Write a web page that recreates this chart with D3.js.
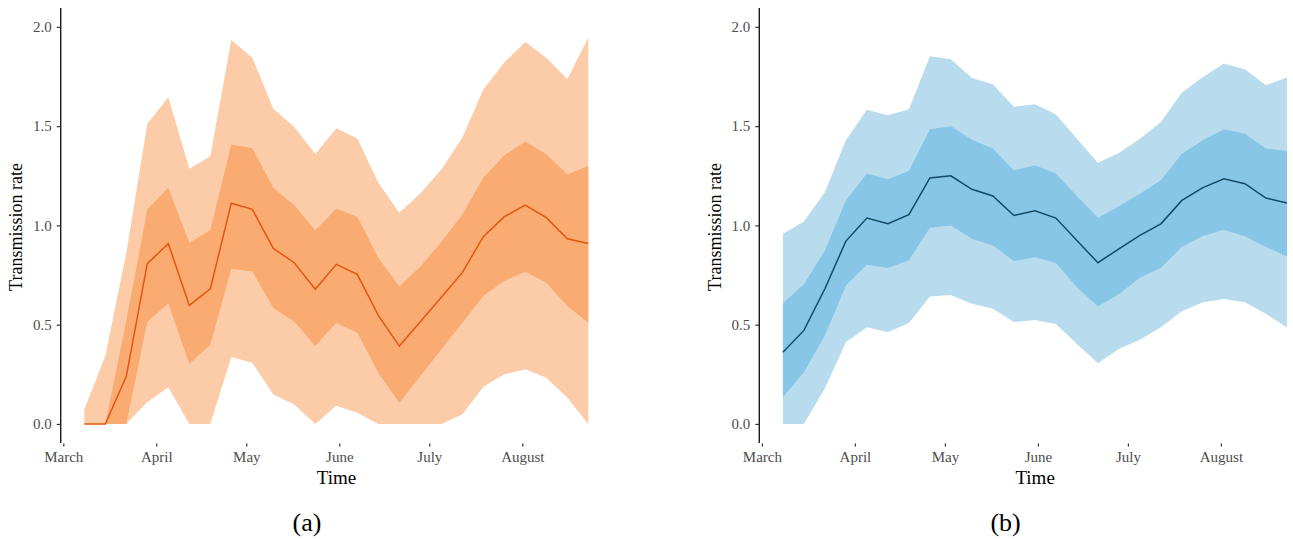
<!DOCTYPE html>
<html>
<head>
<meta charset="utf-8">
<script src="https://cdn.jsdelivr.net/npm/d3@7"></script>
<style>
  body { margin: 0; background: #fff; }
  text { font-family: "Liberation Serif", "DejaVu Serif", serif; }
</style>
</head>
<body>
<svg id="chart" width="1293" height="539"></svg>
<script>
// weekly estimates, 2020
var dates = ["2020-03-08", "2020-03-15", "2020-03-22", "2020-03-29", "2020-04-05", "2020-04-12",
    "2020-04-19", "2020-04-26", "2020-05-03", "2020-05-10", "2020-05-17", "2020-05-24",
    "2020-05-31", "2020-06-07", "2020-06-14", "2020-06-21", "2020-06-28", "2020-07-05",
    "2020-07-12", "2020-07-19", "2020-07-26", "2020-08-02", "2020-08-09", "2020-08-16", "2020-08-23"]

// panel (a)
var aMedian = [0, 0, 0.24, 0.807, 0.908, 0.597, 0.681, 1.112, 1.081, 0.884, 0.812, 0.678, 0.804,
    0.753, 0.547, 0.392, 0.515, 0.638, 0.762, 0.943, 1.044, 1.102, 1.039, 0.933, 0.909]
var aInnerLo = [0, 0, 0, 0.515, 0.607, 0.303, 0.399, 0.782, 0.768, 0.584, 0.515, 0.392, 0.51,
    0.459, 0.258, 0.107, 0.241, 0.375, 0.51, 0.644, 0.72, 0.767, 0.711, 0.594, 0.51]
var aInnerHi = [0, 0, 0.52, 1.081, 1.19, 0.913, 0.975, 1.408, 1.388, 1.19, 1.102, 0.975, 1.084,
    1.044, 0.837, 0.694, 0.792, 0.916, 1.055, 1.24, 1.353, 1.422, 1.358, 1.257, 1.299]
var aOuterLo = [0, 0, 0, 0.11, 0.185, 0, 0, 0.337, 0.308, 0.148, 0.098, 0, 0.092,
    0.056, 0, 0, 0, 0, 0.048, 0.187, 0.25, 0.275, 0.233, 0.132, 0]
var aOuterHi = [0.073, 0.342, 0.86, 1.512, 1.646, 1.285, 1.348, 1.934, 1.845, 1.588, 1.495, 1.36, 1.489,
    1.438, 1.215, 1.064, 1.161, 1.282, 1.442, 1.685, 1.82, 1.924, 1.845, 1.736, 1.946]

// panel (b)
var bMedian = [0.361, 0.471, 0.681, 0.921, 1.037, 1.008, 1.054, 1.239, 1.25, 1.182, 1.148, 1.05, 1.074,
    1.037, 0.924, 0.812, 0.882, 0.95, 1.008, 1.126, 1.19, 1.235, 1.21, 1.138, 1.113]
var bInnerLo = [0.134, 0.26, 0.445, 0.697, 0.802, 0.785, 0.824, 0.988, 1.0, 0.933, 0.899, 0.82, 0.84,
    0.81, 0.689, 0.592, 0.655, 0.736, 0.787, 0.891, 0.946, 0.978, 0.945, 0.891, 0.844]
var bInnerHi = [0.608, 0.703, 0.874, 1.126, 1.261, 1.232, 1.274, 1.484, 1.499, 1.432, 1.387, 1.277, 1.303,
    1.261, 1.148, 1.039, 1.096, 1.16, 1.227, 1.361, 1.429, 1.484, 1.462, 1.387, 1.375]
var bOuterLo = [0, 0, 0.18, 0.412, 0.487, 0.462, 0.509, 0.642, 0.65, 0.605, 0.58, 0.513, 0.524,
    0.504, 0.403, 0.306, 0.378, 0.424, 0.487, 0.568, 0.613, 0.629, 0.613, 0.555, 0.487]
var bOuterHi = [0.958, 1.02, 1.168, 1.429, 1.583, 1.555, 1.585, 1.852, 1.837, 1.743, 1.711, 1.597, 1.61,
    1.56, 1.437, 1.316, 1.365, 1.437, 1.521, 1.669, 1.748, 1.815, 1.787, 1.706, 1.745]

var yTicks = [0, 0.5, 1, 1.5, 2]

var parse = d3.utcParse("%Y-%m-%d")
var times = dates.map(parse)

var svg = d3.select("#chart")

function rows(med, ilo, ihi, olo, ohi) {
    return times.map(function (t, i) {
        return {t: t, med: med[i], ilo: ilo[i], ihi: ihi[i], olo: olo[i], ohi: ohi[i]}
    })
}

function panel(dx, data, cols, tag) {
    var g = svg.append("g").attr("transform", "translate(" + dx + ",0)")

    var x = d3.scaleUtc()
        .domain([parse("2020-03-01"), parse("2020-08-23")])
        .range([63.3, 588.3])
    var y = d3.scaleLinear()
        .domain([-0.096, 2.095])
        .range([443, 8])

    var outer = d3.area()
        .x(d => x(d.t)).y0(d => y(d.olo)).y1(d => y(d.ohi))
    var inner = d3.area()
        .x(d => x(d.t)).y0(d => y(d.ilo)).y1(d => y(d.ihi))
    var line = d3.line()
        .x(d => x(d.t)).y(d => y(d.med))

    g.append("path").datum(data).attr("d", outer).attr("fill", cols[0])
    g.append("path").datum(data).attr("d", inner).attr("fill", cols[1])
    g.append("path").datum(data).attr("d", line)
        .attr("fill", "none")
        .attr("stroke", cols[2])
        .attr("stroke-width", 1.5)

    // y axis
    var ya = g.append("g")
        .attr("transform", "translate(60.7,0)")
        .call(d3.axisLeft(y).tickValues(yTicks).tickFormat(d3.format(".1f")).tickSize(4).tickPadding(5))
    ya.select(".domain").attr("stroke", "#1a1a1a").attr("stroke-width", 1.4)
        .attr("d", "M0," + y.range()[0] + "V" + y.range()[1])
    ya.selectAll(".tick line").attr("stroke", "#333").attr("stroke-width", 1.2)
    ya.selectAll(".tick text")
        .attr("fill", "#4d4d4d")
        .style("font-size", "15px")

    // x axis (ticks only)
    var xa = g.append("g")
        .attr("transform", "translate(0,443.5)")
        .call(d3.axisBottom(x).ticks(d3.utcMonth.every(1)).tickFormat(d3.utcFormat("%B")).tickSize(3).tickPadding(5))
    xa.select(".domain").remove()
    xa.selectAll(".tick line").attr("stroke", "#333").attr("stroke-width", 1.2)
    xa.selectAll(".tick text")
        .attr("fill", "#4d4d4d")
        .style("font-size", "15px")

    g.append("text")
        .attr("x", 336.5).attr("y", 484)
        .attr("text-anchor", "middle")
        .style("font-size", "19px")
        .text("Time")

    g.append("text")
        .attr("transform", "translate(22,227) rotate(-90)")
        .attr("text-anchor", "middle")
        .style("font-size", "18px")
        .text("Transmission rate")

    g.append("text")
        .attr("x", 307).attr("y", 531)
        .attr("text-anchor", "middle")
        .style("font-size", "26px")
        .text(tag)
}

panel(0, rows(aMedian, aInnerLo, aInnerHi, aOuterLo, aOuterHi), ["#fccba8", "#f9ab72", "#e6550d"], "(a)")
panel(698.6, rows(bMedian, bInnerLo, bInnerHi, bOuterLo, bOuterHi), ["#b8dcee", "#87c6e6", "#134b66"], "(b)")
</script>
</body>
</html>
